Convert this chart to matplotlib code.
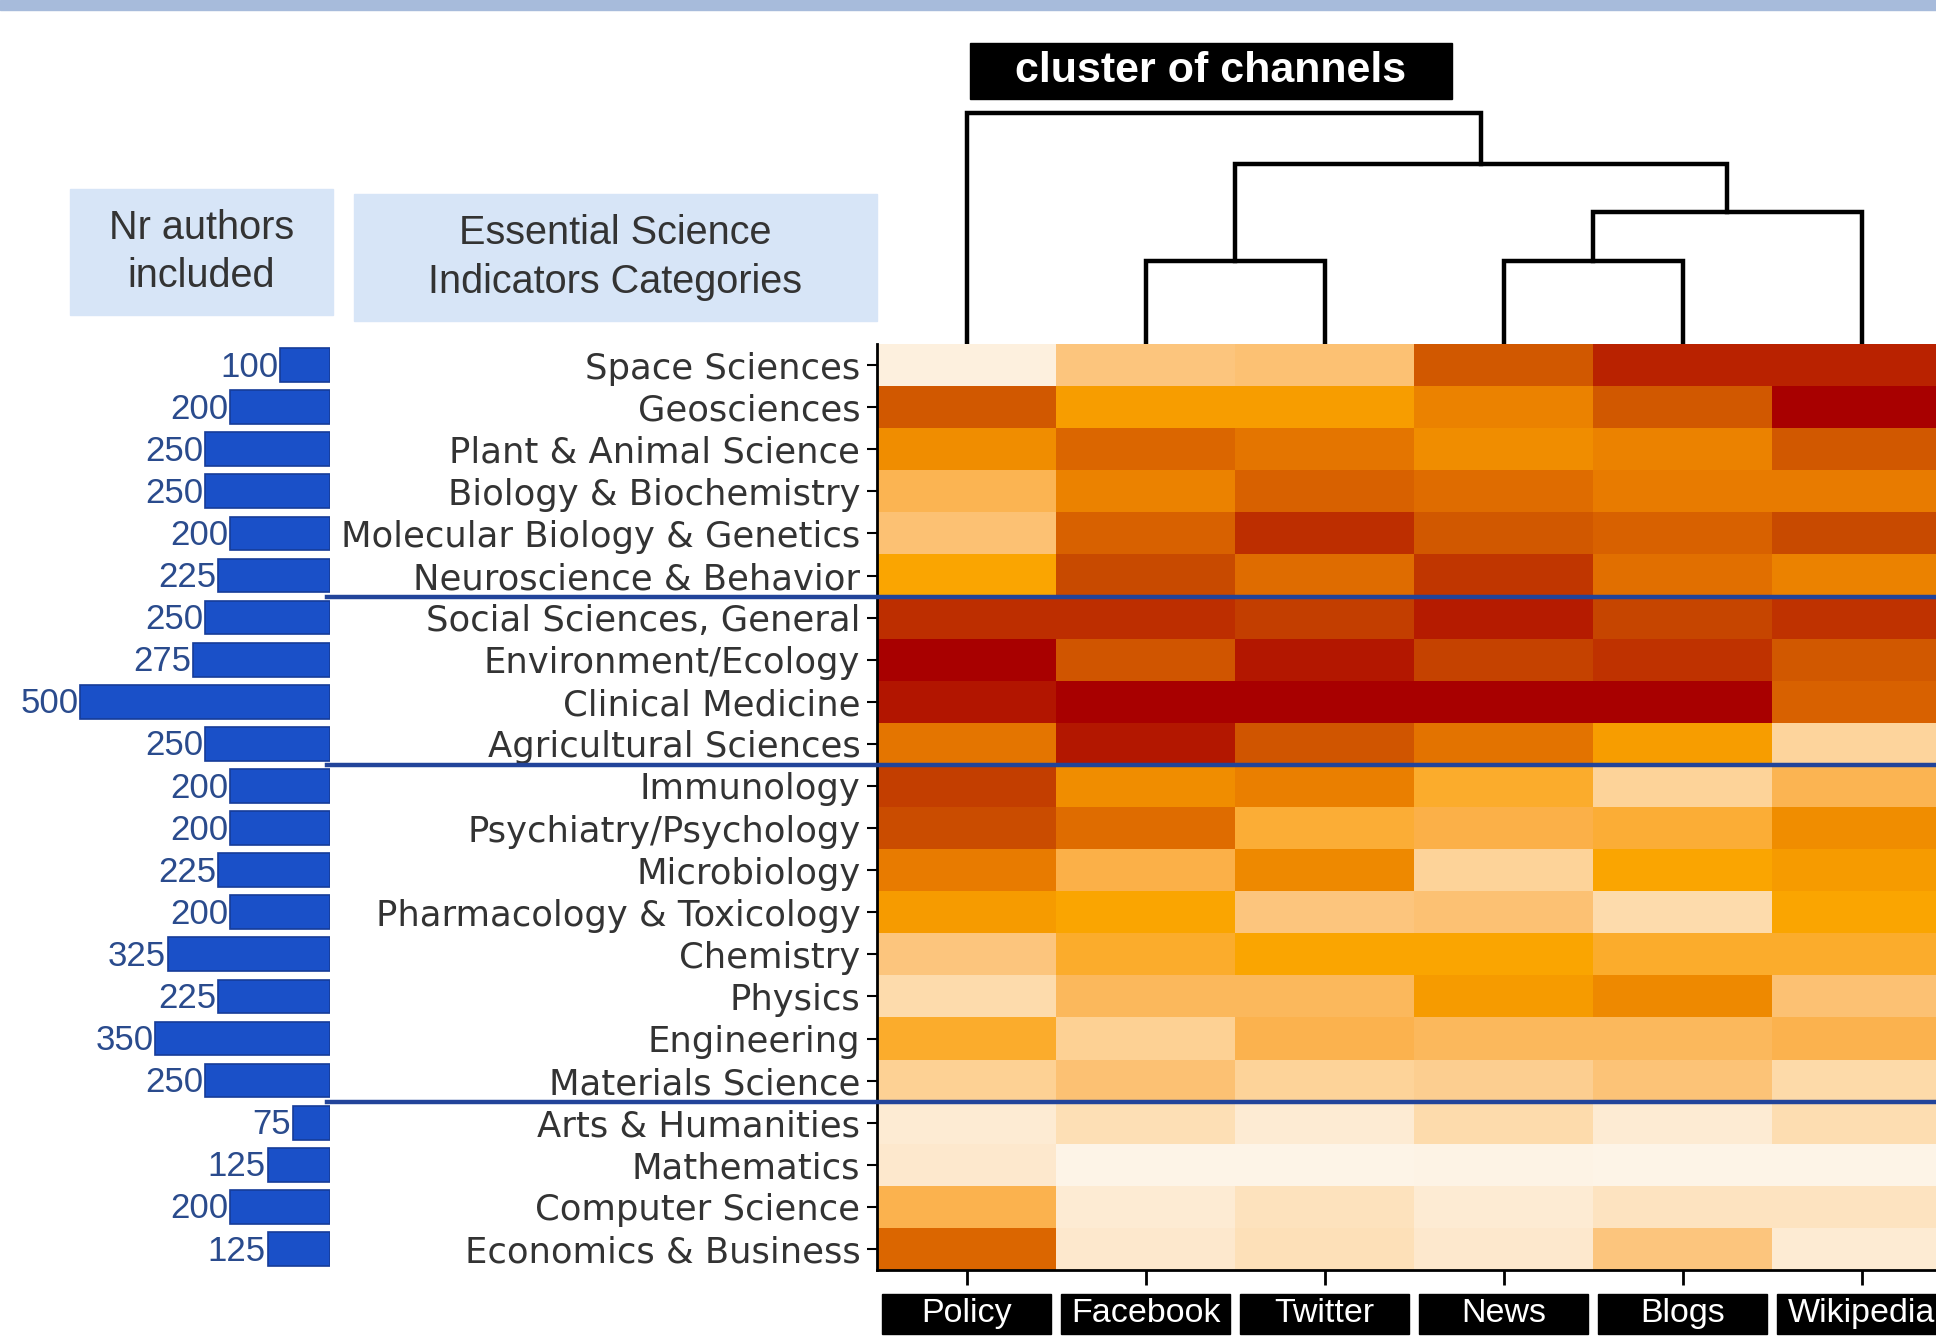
"""
Altmetrics channels vs ESI categories: bar of authors + clustered heatmap
"""
import matplotlib
matplotlib.use('Agg')
import matplotlib.pyplot as plt
import numpy as np
from matplotlib import font_manager
from matplotlib.colors import LinearSegmentedColormap
from matplotlib.patches import Rectangle

#%% data
categories = ['Space Sciences', 'Geosciences', 'Plant & Animal Science', 'Biology & Biochemistry',
              'Molecular Biology & Genetics', 'Neuroscience & Behavior', 'Social Sciences, General',
              'Environment/Ecology', 'Clinical Medicine', 'Agricultural Sciences', 'Immunology',
              'Psychiatry/Psychology', 'Microbiology', 'Pharmacology & Toxicology', 'Chemistry',
              'Physics', 'Engineering', 'Materials Science', 'Arts & Humanities', 'Mathematics',
              'Computer Science', 'Economics & Business']
channels = ['Policy', 'Facebook', 'Twitter', 'News', 'Blogs', 'Wikipedia']
authors = [100, 200, 250, 250, 200, 225, 250, 275, 500, 250, 200, 200, 225, 200, 325, 225, 350, 250,
           75, 125, 200, 125]

# colour intensity 0 (cream) .. 10 (dark red)
intensity = [
    [0.5, 3.0, 3.2, 7.5, 9.0, 9.0],
    [7.5, 5.0, 5.0, 6.0, 7.5, 10.0],
    [5.5, 7.0, 6.5, 5.5, 6.0, 7.5],
    [3.8, 6.0, 7.2, 6.8, 6.3, 6.3],
    [3.2, 7.2, 8.7, 7.5, 7.2, 8.0],
    [4.8, 8.0, 6.8, 8.5, 6.7, 6.0],
    [8.7, 8.7, 8.3, 9.2, 8.1, 8.6],
    [10.0, 7.6, 9.3, 8.2, 8.6, 7.5],
    [9.4, 10.0, 10.0, 10.0, 10.0, 7.2],
    [6.5, 9.3, 7.6, 6.6, 5.0, 2.2],
    [8.3, 5.5, 6.1, 4.3, 2.3, 3.8],
    [7.9, 6.8, 4.2, 4.0, 4.2, 5.5],
    [6.3, 4.0, 5.7, 2.3, 4.8, 5.1],
    [5.1, 4.8, 3.0, 3.2, 1.8, 4.8],
    [3.0, 4.3, 4.8, 4.8, 4.3, 4.3],
    [1.8, 3.6, 3.6, 5.1, 5.7, 3.2],
    [4.3, 2.4, 3.9, 3.6, 3.6, 3.9],
    [2.4, 3.2, 2.3, 2.5, 3.1, 1.9],
    [0.8, 1.6, 0.8, 1.8, 0.8, 1.7],
    [1.0, 0.2, 0.2, 0.3, 0.2, 0.2],
    [3.9, 0.8, 1.4, 0.8, 1.3, 1.3],
    [7.0, 1.0, 1.5, 1.0, 3.0, 0.8],
]
group_breaks = [6, 10, 18]

# dendrogram merges (left id, right id, height); new nodes get ids 6, 7, ...
merges = [(1, 2, 83), (3, 4, 83), (7, 5, 132), (6, 8, 180), (0, 9, 231)]

#%% style
W, H = 1936, 1340
names = {f.name for f in font_manager.fontManager.ttflist}
if 'Liberation Sans Narrow' in names:
    narrow, k = 'Liberation Sans Narrow', 1.18
else:
    narrow, k = 'Liberation Sans', 1.0

cmap = LinearSegmentedColormap.from_list('oranges', [
    (0.00, '#fdf7ee'), (0.10, '#fde8cc'), (0.20, '#fdd8a4'), (0.30, '#fcc57c'),
    (0.40, '#fbb048'), (0.48, '#faa500'), (0.55, '#f08d00'), (0.63, '#e87b00'),
    (0.72, '#d86100'), (0.80, '#c84a00'), (0.90, '#b92300'), (1.00, '#a80000')])


def px(l, t, w, h):
    return [l / W, 1 - (t + h) / H, w / W, h / H]


fig = plt.figure(figsize=(W / 100, H / 100), dpi=100)
fig.patches.append(Rectangle((0, 1 - 10 / H), 1, 10 / H, transform=fig.transFigure,
                             color='#a7bbdb', zorder=0))

#%% heatmap
n = len(categories)
ax = fig.add_axes(px(877, 344, 1074, 926))
ax.pcolormesh(np.arange(len(channels) + 1), np.arange(n + 1), np.array(intensity),
              cmap=cmap, vmin=0, vmax=10)
ax.set_xlim(0, len(channels))
ax.set_ylim(n, 0)
ax.set_yticks(np.arange(n) + 0.5)
ax.set_yticklabels(categories, fontsize=25.5, color='#333333', family='DejaVu Sans')
ax.set_xticks(np.arange(len(channels)) + 0.5)
ax.set_xticklabels([])
ax.tick_params(axis='y', length=7, width=1.5, pad=5)
ax.tick_params(axis='x', length=11, width=2)
for s in ['top', 'right']:
    ax.spines[s].set_visible(False)
for s in ['left', 'bottom']:
    ax.spines[s].set_linewidth(2)

for b in group_breaks:
    ax.axhline(b, xmin=-(877 - 327) / 1074, xmax=1, color='#22449a', lw=3.2, clip_on=False, zorder=5)

tr = ax.get_xaxis_transform()
for i, ch in enumerate(channels):
    ax.add_patch(Rectangle((i + 0.03, -0.0691), 0.94, 0.0432, transform=tr, color='black',
                           clip_on=False))
    ax.text(i + 0.5, -0.0475, ch, transform=tr, ha='center', va='center', color='white',
            fontsize=24.5 * k, family=narrow)

#%% bars
axb = fig.add_axes(px(0, 344, 330, 926))
axb.barh(np.arange(n) + 0.5, authors, height=0.8, color='#1a50c8', edgecolor='#163c98', lw=1.2)
for i, v in enumerate(authors):
    axb.text(v + 3, i + 0.55, str(v), ha='right', va='center', fontsize=25 * (k if k == 1 else 1.1),
             color='#2a4b8d', family=narrow)
axb.set_xlim(660, 0)
axb.set_ylim(n, 0)
axb.axis('off')

#%% dendrogram
axd = fig.add_axes(px(877, 100, 1074, 244))
axd.set_xlim(0, len(channels))
axd.set_ylim(0, 244)
axd.axis('off')
pos = {i: (i + 0.5, 0) for i in range(len(channels))}
for j, (a, b, h) in enumerate(merges):
    xa, ha = pos[a]
    xb, hb = pos[b]
    axd.plot([xa, xa, xb, xb], [ha, h, h, hb], color='black', lw=3.2, solid_joinstyle='miter')
    pos[len(channels) + j] = ((xa + xb) / 2, h)

#%% header boxes
fig.patches.append(Rectangle((970 / W, 1 - 99 / H), 482 / W, 56 / H, transform=fig.transFigure,
                             color='black'))
fig.text(1211 / W, 1 - 71 / H, 'cluster of channels', ha='center', va='center', color='white',
         fontsize=31 * k, fontweight='bold', family=narrow)

for (l, t, w, h), txt in [((70, 189, 263, 126), 'Nr authors\nincluded'),
                          ((354, 194, 523, 127), 'Essential Science\nIndicators Categories')]:
    fig.patches.append(Rectangle((l / W, 1 - (t + h) / H), w / W, h / H, transform=fig.transFigure,
                                 color='#d7e5f7'))
    fig.text((l + w / 2) / W, 1 - (t + h / 2) / H, txt, ha='center', va='center', color='#333333',
             fontsize=28.5 * k, family=narrow, linespacing=1.35)

fig.savefig('out.png', dpi=100)
